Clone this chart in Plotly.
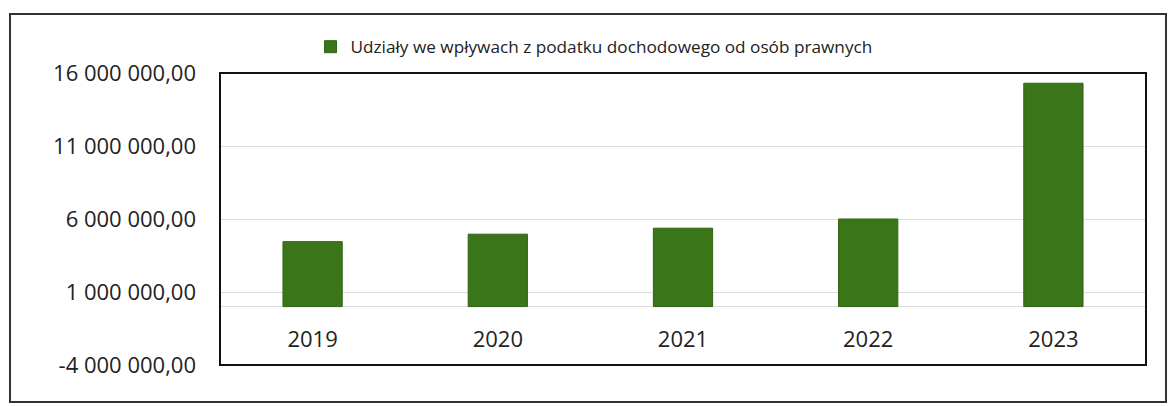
import plotly.graph_objects as go

years = ["2019", "2020", "2021", "2022", "2023"]
values = [4450000, 4960000, 5370000, 6000000, 15300000]
series_name = "Udziały we wpływach z podatku dochodowego od osób prawnych"
y_ticks = [-4000000, 1000000, 6000000, 11000000, 16000000]
y_tick_text = ["-4 000 000,00", "1 000 000,00", "6 000 000,00", "11 000 000,00", "16 000 000,00"]

W, H = 1170, 406
L, R, T, B = 220, 1146, 73, 365

fig = go.Figure()
fig.add_trace(go.Bar(
    x=years, y=values, name=series_name,
    marker=dict(color="#3a7519", line=dict(color="#2f6512", width=1)),
    width=0.32, showlegend=True,
))

def px_x(x):
    return (x - L) / (R - L)

def px_y(y):
    return (B - y) / (B - T)

fig.update_layout(
    width=W, height=H,
    margin=dict(l=L, r=W - R, t=T, b=H - B, autoexpand=False),
    paper_bgcolor="white", plot_bgcolor="white",
    font=dict(family="Open Sans", color="#222222"),
    showlegend=True,
    legend=dict(
        orientation="h", x=px_x(594), y=px_y(47), xanchor="center", yanchor="middle",
        font=dict(size=17.2, color="#222222"), bgcolor="rgba(0,0,0,0)",
    ),
    xaxis=dict(
        anchor="free", position=0.2, showline=False, showgrid=False, automargin=False,
        tickfont=dict(size=22, color="#222222"), ticks="", ticklabelstandoff=17,
    ),
    yaxis=dict(
        range=[-4000000, 16000000], tickvals=y_ticks, ticktext=y_tick_text,
        automargin=False,
        tickfont=dict(size=22, color="#222222"), showgrid=True, gridcolor="#dcdcdc",
        gridwidth=1, zeroline=True, zerolinecolor="#dcdcdc", zerolinewidth=1,
        ticks="", ticklabelstandoff=23,
    ),
    shapes=[
        dict(type="rect", xref="paper", yref="paper", x0=0, x1=1, y0=0, y1=1,
             line=dict(color="#111111", width=2), layer="above"),
        dict(type="rect", xref="paper", yref="paper",
             x0=px_x(10), x1=px_x(1166), y0=px_y(402), y1=px_y(14),
             line=dict(color="#333333", width=2)),
    ],
)

fig.write_html("out.html", config={"displayModeBar": False},
               post_script="document.body.style.margin='0';")
